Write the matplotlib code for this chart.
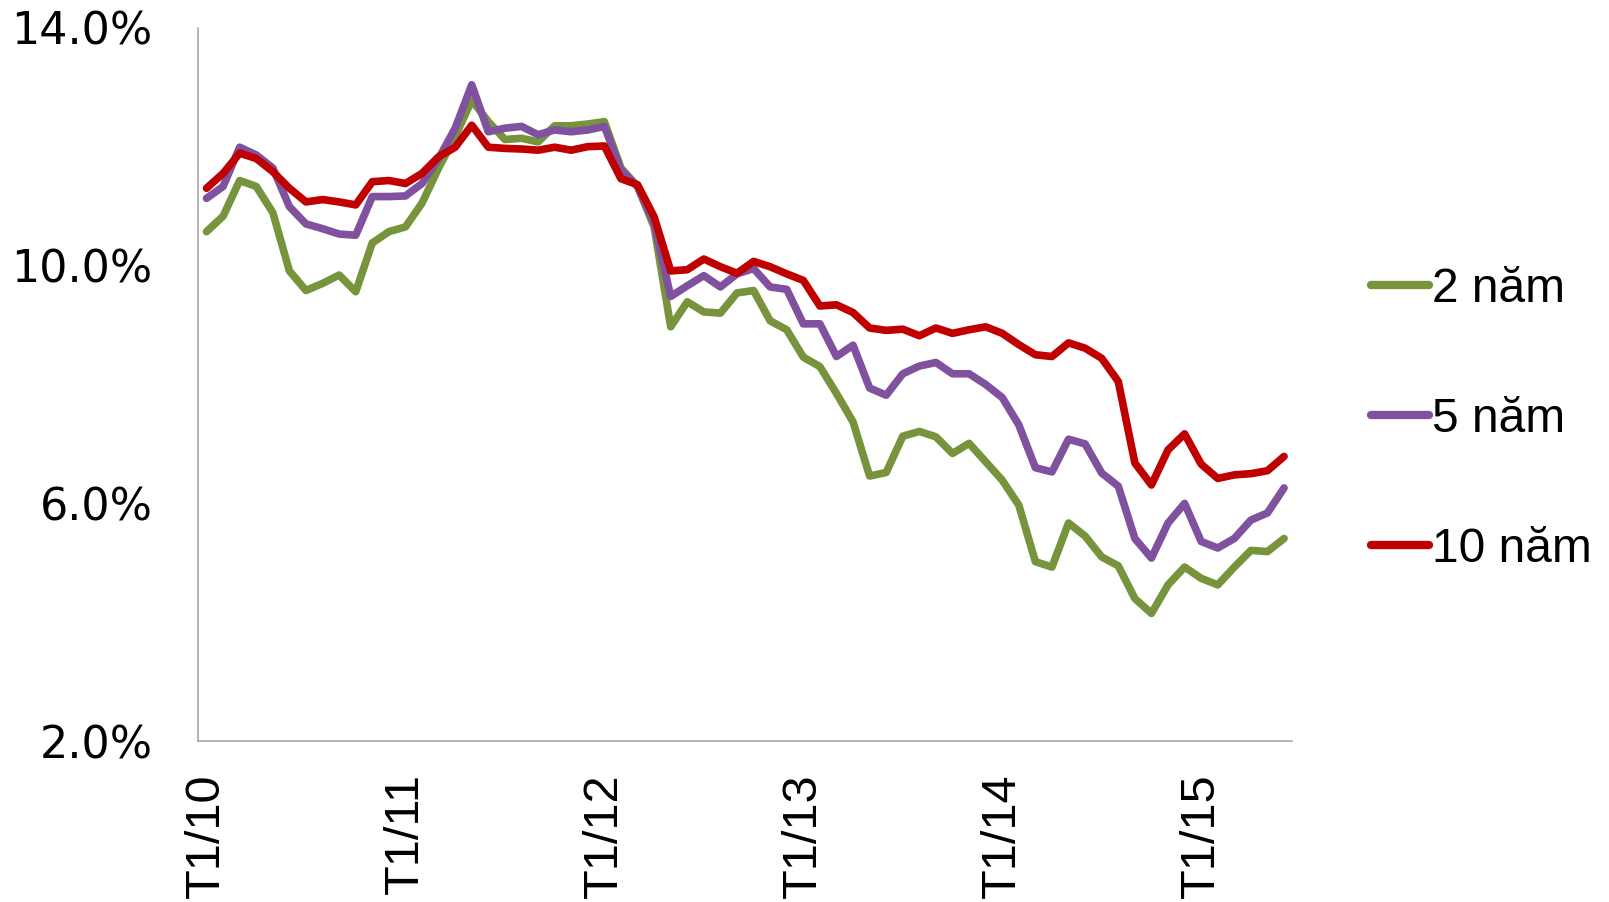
import matplotlib
matplotlib.use("Agg")
import matplotlib.pyplot as plt
from matplotlib.ticker import FuncFormatter

# monthly yields, T1/10 .. T6/15 (66 months)
months = ["T{}/{}".format(m, y) for y in range(10, 16) for m in range(1, 13)][:66]

yield_2y = [10.57, 10.83, 11.43, 11.33, 10.89, 9.91, 9.58, 9.70, 9.84, 9.56,
            10.38, 10.57, 10.65, 11.05, 11.64, 12.17, 12.78, 12.42, 12.12, 12.14,
            12.08, 12.35, 12.35, 12.38, 12.42, 11.64, 11.33, 10.65, 8.97, 9.39,
            9.22, 9.20, 9.54, 9.58, 9.07, 8.92, 8.46, 8.30, 7.85, 7.37,
            6.46, 6.52, 7.13, 7.21, 7.12, 6.84, 7.01, 6.70, 6.39, 5.97,
            5.02, 4.93, 5.67, 5.45, 5.10, 4.95, 4.40, 4.15, 4.63, 4.93,
            4.74, 4.63, 4.93, 5.21, 5.19, 5.41]

yield_5y = [11.13, 11.33, 11.99, 11.86, 11.64, 10.99, 10.70, 10.62, 10.53, 10.51,
            11.16, 11.16, 11.17, 11.38, 11.80, 12.31, 13.04, 12.25, 12.31, 12.34,
            12.20, 12.28, 12.25, 12.28, 12.34, 11.61, 11.33, 10.71, 9.48, 9.66,
            9.83, 9.64, 9.86, 9.95, 9.64, 9.60, 9.02, 9.02, 8.47, 8.66,
            7.94, 7.82, 8.18, 8.31, 8.37, 8.18, 8.18, 8.00, 7.78, 7.32,
            6.60, 6.53, 7.08, 7.00, 6.51, 6.29, 5.41, 5.08, 5.67, 6.00,
            5.36, 5.25, 5.41, 5.72, 5.84, 6.26]

yield_10y = [11.30, 11.55, 11.89, 11.80, 11.58, 11.30, 11.07, 11.11, 11.07, 11.02,
             11.41, 11.43, 11.38, 11.55, 11.83, 11.99, 12.36, 11.99, 11.97, 11.96,
             11.94, 11.99, 11.94, 12.00, 12.01, 11.46, 11.36, 10.82, 9.91, 9.93,
             10.11, 9.98, 9.87, 10.07, 9.98, 9.86, 9.75, 9.32, 9.34, 9.21,
             8.95, 8.91, 8.93, 8.82, 8.95, 8.86, 8.92, 8.97, 8.86, 8.67,
             8.50, 8.47, 8.70, 8.61, 8.44, 8.05, 6.68, 6.31, 6.90, 7.17,
             6.66, 6.42, 6.48, 6.50, 6.55, 6.79]

series = [("2 năm", yield_2y, "#77933C"),
          ("5 năm", yield_5y, "#7F519E"),
          ("10 năm", yield_10y, "#C00000")]

fig = plt.figure(figsize=(16.09, 9.02), dpi=100)
ax = fig.add_axes([0.1232, 0.1782, 0.68, 0.7911])

x = list(range(len(months)))
for name, vals, col in series:
    ax.plot(x, vals, color=col, lw=5.5, label=name,
            solid_capstyle="round", solid_joinstyle="round")

ax.set_xlim(-0.5, len(months) - 0.5)
ax.set_ylim(2, 14)
ax.set_yticks([2, 6, 10, 14])
ax.yaxis.set_major_formatter(FuncFormatter(lambda v, p: "{:.1f}%".format(v)))
ax.set_xticks(x[::12])
ax.set_xticklabels(months[::12], rotation=90, family="Liberation Sans",
                   fontsize=35, va="top", ha="center")
for lab in ax.get_yticklabels():
    lab.set_family("DejaVu Sans")
    lab.set_fontsize(32)

ax.tick_params(axis="y", length=0, pad=33)
ax.tick_params(axis="x", length=0, pad=23)
for side in ["top", "right"]:
    ax.spines[side].set_visible(False)
for side in ["left", "bottom"]:
    ax.spines[side].set_color("#A0A0A0")
    ax.spines[side].set_linewidth(1.1)

leg = ax.legend(loc="center left", bbox_to_anchor=(0.852, 0.535),
                bbox_transform=fig.transFigure, frameon=False,
                prop={"family": "Liberation Sans", "size": 34.5},
                handlelength=1.21, handletextpad=0.06, labelspacing=1.77,
                borderpad=0, borderaxespad=0)
for h in leg.get_lines():
    h.set_linewidth(6)
    h.set_solid_capstyle("round")

fig.savefig("out.png", dpi=100)
